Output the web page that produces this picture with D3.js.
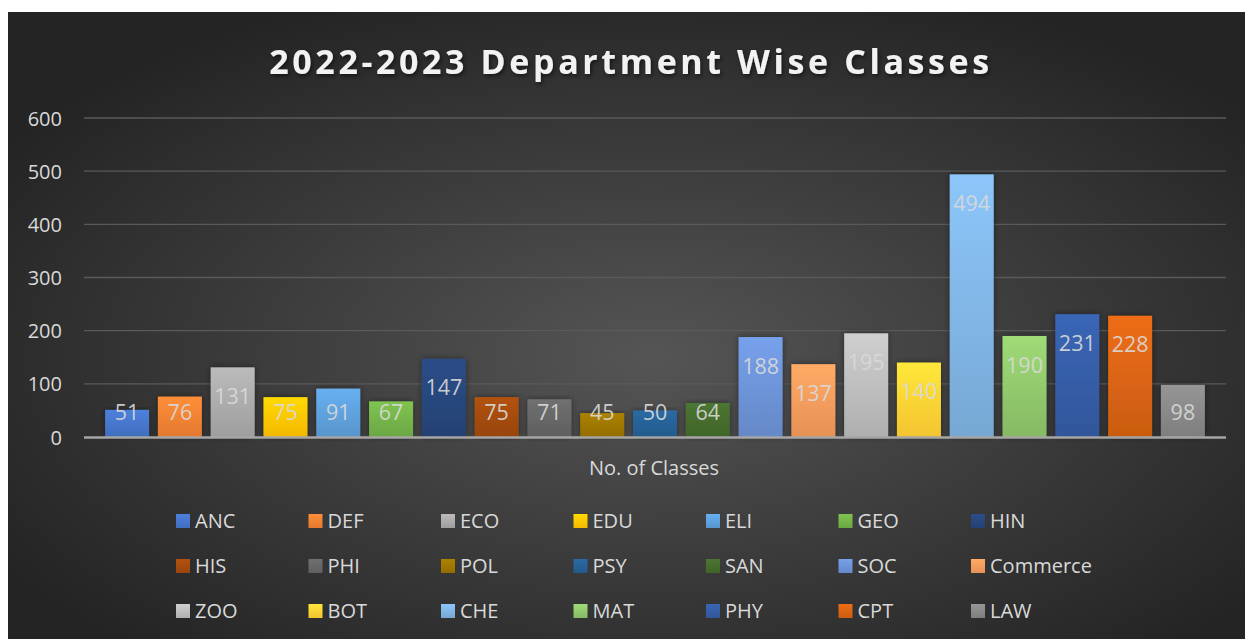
<!DOCTYPE html>
<html>
<head>
<meta charset="utf-8">
<script src="https://cdn.jsdelivr.net/npm/d3@7"></script>
<style>
  body { margin: 0; background: #fff; }
  svg { display: block; }
</style>
</head>
<body>
<div id="vis-container"></div>
<script>
// data
var departments = ["ANC", "DEF", "ECO", "EDU", "ELI", "GEO", "HIN", "HIS", "PHI", "POL", "PSY",
  "SAN", "SOC", "Commerce", "ZOO", "BOT", "CHE", "MAT", "PHY", "CPT", "LAW"];
var classes = [51, 76, 131, 75, 91, 67, 147, 75, 71, 45, 50, 64, 188, 137, 195, 140, 494, 190, 231, 228, 98];
var colours = ["#4472C4", "#ED7D31", "#A5A5A5", "#FFC000", "#5B9BD5", "#70AD47", "#264478", "#9E480E",
  "#636363", "#997300", "#255E91", "#43682B", "#698ED0", "#F1975A", "#B7B7B7", "#FFCD33", "#7CAFDD",
  "#8CC168", "#335AA1", "#D26012", "#848484"];
var yTicks = [0, 100, 200, 300, 400, 500, 600];
var chartTitle = "2022-2023 Department Wise Classes";
var axisTitle = "No. of Classes";

var W = 1245, H = 639;
var font = "'Open Sans', 'Noto Sans', sans-serif";

var svg = d3.select("#vis-container").append("svg")
  .attr("width", W).attr("height", H);

var defs = svg.append("defs");

// dark background with lighter middle
var bg = defs.append("radialGradient").attr("id", "bg")
  .attr("cx", "52%").attr("cy", "55%").attr("r", "62%");
bg.append("stop").attr("offset", "0%").attr("stop-color", "#555555");
bg.append("stop").attr("offset", "100%").attr("stop-color", "#242424");

var shadow = defs.append("filter").attr("id", "shadow")
  .attr("x", "-20%").attr("y", "-20%").attr("width", "140%").attr("height", "140%");
shadow.append("feDropShadow").attr("dx", 1.5).attr("dy", 2).attr("stdDeviation", 2)
  .attr("flood-color", "#000").attr("flood-opacity", 0.55);

var barShadow = defs.append("filter").attr("id", "barShadow")
  .attr("x", "-20%").attr("y", "-10%").attr("width", "140%").attr("height", "120%");
barShadow.append("feDropShadow").attr("dx", 0).attr("dy", 0).attr("stdDeviation", 3)
  .attr("flood-color", "#000").attr("flood-opacity", 0.45);

colours.forEach(function (c, i) {
  var g = defs.append("linearGradient").attr("id", "grad" + i)
    .attr("x1", 0).attr("y1", 0).attr("x2", 0).attr("y2", 1);
  g.append("stop").attr("offset", "0%").attr("stop-color", d3.color(c).brighter(0.35));
  g.append("stop").attr("offset", "100%").attr("stop-color", d3.color(c).darker(0.12));
});

svg.append("rect")
  .attr("x", 8).attr("y", 12).attr("width", W - 8).attr("height", H - 12)
  .attr("fill", "url(#bg)");

// title
svg.append("text")
  .attr("x", 631).attr("y", 74)
  .attr("text-anchor", "middle")
  .attr("font-family", font)
  .attr("font-weight", "bold")
  .attr("font-size", 34)
  .attr("letter-spacing", 3.6)
  .attr("fill", "#f2f2f2")
  .attr("filter", "url(#shadow)")
  .text(chartTitle);

var x = d3.scaleBand()
  .domain(departments)
  .range([84, 1226])
  .paddingInner(0.167)
  .paddingOuter(0.4);

var y = d3.scaleLinear()
  .domain([0, 600])
  .range([437, 118]);

// grid lines
svg.append("g").selectAll("line")
  .data(yTicks.slice(1))
  .enter().append("line")
  .attr("x1", 84).attr("x2", 1226)
  .attr("y1", function (d) { return y(d); })
  .attr("y2", function (d) { return y(d); })
  .attr("stroke", "#5a5a5a")
  .attr("stroke-width", 1.3);

// y axis labels
var yAxis = d3.axisLeft(y).tickValues(yTicks).tickSize(0).tickPadding(0);
var ax = svg.append("g").attr("transform", "translate(62,0)").call(yAxis);
ax.select(".domain").remove();
ax.selectAll("text")
  .attr("font-family", font)
  .attr("font-size", 20)
  .attr("fill", "#d9d9d9")
  .attr("dy", "0.35em");

// bars
var rows = departments.map(function (d, i) {
  return { name: d, value: classes[i], i: i };
});

svg.append("g").selectAll("rect")
  .data(rows)
  .enter().append("rect")
  .attr("x", function (d) { return x(d.name); })
  .attr("y", function (d) { return y(d.value); })
  .attr("width", x.bandwidth())
  .attr("height", function (d) { return y(0) - y(d.value); })
  .attr("fill", function (d) { return "url(#grad" + d.i + ")"; })
  .attr("filter", "url(#barShadow)");

// base line
svg.append("line")
  .attr("x1", 84).attr("x2", 1226)
  .attr("y1", y(0) + 0.5).attr("y2", y(0) + 0.5)
  .attr("stroke", "#a6a6a6")
  .attr("stroke-width", 2.5);

// value labels
svg.append("g").selectAll("text")
  .data(rows)
  .enter().append("text")
  .attr("x", function (d) { return x(d.name) + x.bandwidth() / 2; })
  .attr("y", function (d) { return Math.min(y(d.value) + 29, y(0) - 25); })
  .attr("dy", "0.35em")
  .attr("text-anchor", "middle")
  .attr("font-family", font)
  .attr("font-size", 21.5)
  .attr("fill", "#d9d9d9")
  .attr("fill-opacity", 0.92)
  .text(function (d) { return d.value; });

// axis title
svg.append("text")
  .attr("x", 654).attr("y", 468)
  .attr("dy", "0.35em")
  .attr("text-anchor", "middle")
  .attr("font-family", font)
  .attr("font-size", 20)
  .attr("fill", "#d9d9d9")
  .text(axisTitle);

// legend, 7 per row
var legend = svg.append("g").selectAll("g")
  .data(rows)
  .enter().append("g")
  .attr("transform", function (d) {
    var col = d.i % 7, row = Math.floor(d.i / 7);
    return "translate(" + (176 + col * 132.5) + "," + (521 + row * 45) + ")";
  });

legend.append("rect")
  .attr("x", 0).attr("y", -7)
  .attr("width", 14).attr("height", 14)
  .attr("fill", function (d) { return "url(#grad" + d.i + ")"; });

legend.append("text")
  .attr("x", 19).attr("y", 0)
  .attr("dy", "0.35em")
  .attr("font-family", font)
  .attr("font-size", 20)
  .attr("fill", "#d9d9d9")
  .text(function (d) { return d.name; });
</script>
</body>
</html>
